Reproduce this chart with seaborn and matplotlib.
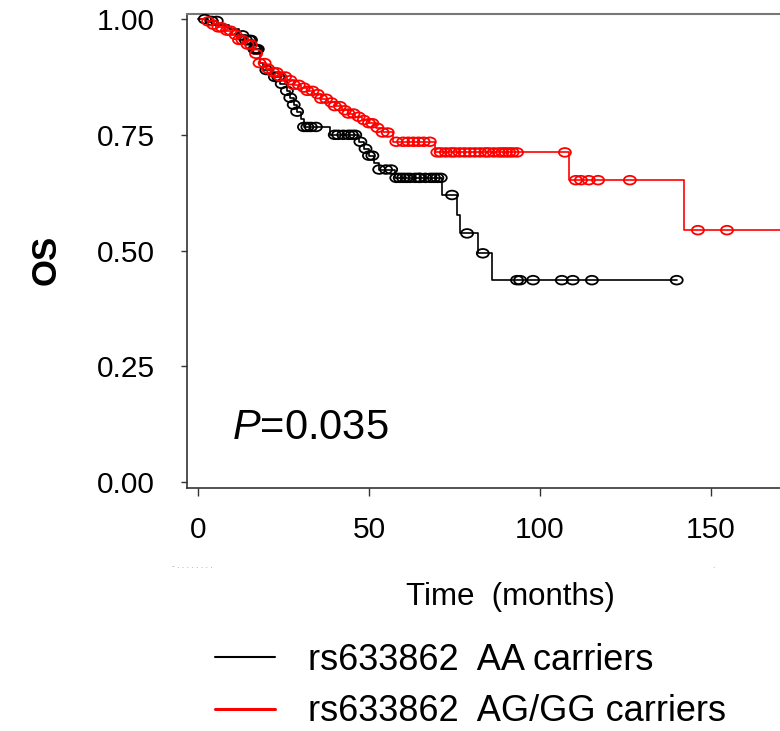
import numpy as np
import pandas as pd
import seaborn as sns
import matplotlib
matplotlib.use("Agg")
import matplotlib.pyplot as plt
from matplotlib.path import Path
from matplotlib.lines import Line2D

# Kaplan-Meier steps (time in months, survival)
aa_times = [0, 3, 6, 9, 12, 14, 16, 18, 19, 22, 24, 26, 27, 28, 29, 30, 31,
            38.6, 47, 48.5, 50, 51.5, 53, 57.6, 71.3, 75.7, 76.6, 81.9, 86]
aa_surv = [1.0, 0.996, 0.988, 0.978, 0.965, 0.955, 0.935, 0.905, 0.89, 0.875,
           0.86, 0.845, 0.83, 0.815, 0.80, 0.785, 0.767,
           0.75, 0.735, 0.72, 0.705, 0.69, 0.675, 0.657, 0.62, 0.577, 0.537,
           0.494, 0.436]
aa_end = 140

ag_times = [0, 2, 4, 6, 8, 10, 12, 14, 16, 18, 20, 22, 24, 26, 28, 30, 32, 34,
            36, 38, 40, 42, 44, 46, 48, 50, 52, 54, 57, 69.4, 108.5, 142.1]
ag_surv = [1.0, 0.995, 0.988, 0.982, 0.975, 0.966, 0.955, 0.945, 0.925, 0.905,
           0.893, 0.885, 0.876, 0.868, 0.858, 0.852, 0.845, 0.838, 0.828, 0.82,
           0.812, 0.803, 0.796, 0.789, 0.782, 0.775, 0.765, 0.755, 0.735,
           0.712, 0.652, 0.544]
ag_end = 175

# censored times
aa_cens = [2, 4, 5.5, 13, 14, 15, 15.5, 16.5, 17, 17.5, 20, 22.5, 23.5, 24.5,
           26, 27, 28, 29, 31, 32, 33, 34.5, 40, 41, 42.5, 44, 45, 46, 47.5, 49,
           50, 51, 53, 55, 56.5, 58, 59, 60, 61, 62, 63.5, 64.5, 65, 66.5, 68,
           69, 70, 71, 74.3, 78.7, 83.3, 93.3, 94.2, 98, 106.4, 109.6, 115.2, 140]
ag_cens = [3, 4.5, 6, 7, 8.5, 9.5, 11, 12, 13, 14.5, 15.5, 17, 18, 19.5, 20.5,
           22, 23, 24, 25.5, 27, 28, 29.5, 31, 32, 33.5, 35, 36, 37.5, 39, 40,
           41.5, 43, 44, 45.5, 47, 48.5, 50, 51, 52.5, 54, 55.5, 58, 60, 61.5,
           63, 64.5, 66, 67.8, 70, 71, 72.5, 74, 75, 76.5, 78, 79.5, 81, 82.5,
           84, 85, 86.5, 88, 89, 90, 91, 92, 93.3, 107.3, 110.5, 112, 114.3,
           117, 126.3, 146.2, 154.7]

labels = ["rs633862  AA carriers", "rs633862  AG/GG carriers"]
colors = ["#000000", "#ff0000"]


def curve(times, surv, end, name):
    return pd.DataFrame({"time": list(times) + [end],
                         "surv": list(surv) + [surv[-1]],
                         "group": name})


def censored(times, surv, cens, name):
    idx = np.searchsorted(times, cens, side="right") - 1
    return pd.DataFrame({"time": cens, "surv": np.array(surv)[idx], "group": name})


lines = pd.concat([curve(aa_times, aa_surv, aa_end, labels[0]),
                   curve(ag_times, ag_surv, ag_end, labels[1])])
marks = [censored(aa_times, aa_surv, aa_cens, labels[0]),
         censored(ag_times, ag_surv, ag_cens, labels[1])]

sns.set_style("ticks")
plt.rcParams["font.family"] = ["Liberation Sans", "DejaVu Sans"]
plt.rcParams["mathtext.fontset"] = "custom"
plt.rcParams["mathtext.rm"] = "Liberation Sans"
plt.rcParams["mathtext.it"] = "Liberation Sans:italic"

fig = plt.figure(figsize=(7.8, 7.31), dpi=100)
ax = fig.add_axes([187 / 780, 1 - 488 / 731, 1 - 187 / 780, (488 - 14) / 731])

sns.lineplot(data=lines, x="time", y="surv", hue="group", hue_order=labels,
             palette=colors, drawstyle="steps-post", estimator=None, sort=False,
             legend=False, linewidth=1.2, ax=ax)

# flattened circle for censor ticks
uc = Path.unit_circle()
ell = Path(uc.vertices * np.array([1.0, 0.72]), uc.codes)
for df, col in zip(marks, colors):
    sns.scatterplot(data=df, x="time", y="surv", marker=ell, s=75,
                    facecolor="none", edgecolor=col, linewidth=1.3,
                    legend=False, ax=ax, zorder=3)

ax.set_xlim(-3.2, 170.2)
ax.set_ylim(-0.013, 1.011)
ax.set_xticks([0, 50, 100, 150])
ax.set_yticks([0, 0.25, 0.5, 0.75, 1.0])
ax.set_yticklabels(["0.00", "0.25", "0.50", "0.75", "1.00"])
ax.tick_params(axis="x", labelsize=21.5, length=6, width=1, pad=14,
               color="#333", labelcolor="black")
ax.tick_params(axis="y", labelsize=21.5, length=4, width=1, pad=19,
               color="#333", labelcolor="black")

ax.spines["right"].set_visible(False)
ax.spines["top"].set_color("#777")
ax.spines["top"].set_linewidth(1.5)
for s in ["left", "bottom"]:
    ax.spines[s].set_color("#333")
    ax.spines[s].set_linewidth(1.2)

ax.set_ylabel("OS", fontsize=25, fontweight="bold", color="black")
ax.yaxis.set_label_coords(-0.209, 0.481)
ax.set_xlabel("Time  (months)", fontsize=22.5, color="black")
ax.xaxis.set_label_coords(0.545, -0.198)

ax.text(10, 0.117, "$P$=0.035", fontsize=30, va="center", ha="left",
        color="black")

# faint leftovers under the axis
fig.text(172 / 780, 1 - 566 / 731, "- . . . . . . . .", fontsize=6,
         color="#999", va="center")
fig.text(712 / 780, 1 - 566 / 731, ".", fontsize=6, color="#999", va="center")

handles = [Line2D([], [], color=colors[0], lw=1.5),
           Line2D([], [], color=colors[1], lw=2.2)]
fig.legend(handles, labels, loc="upper left",
           bbox_to_anchor=(215 / 780, 1 - 643 / 731), frameon=False,
           fontsize=26, borderpad=0, borderaxespad=0, handlelength=1.67,
           handletextpad=0.9, labelspacing=0.45, labelcolor="black")

fig.savefig("out.png", dpi=100)
